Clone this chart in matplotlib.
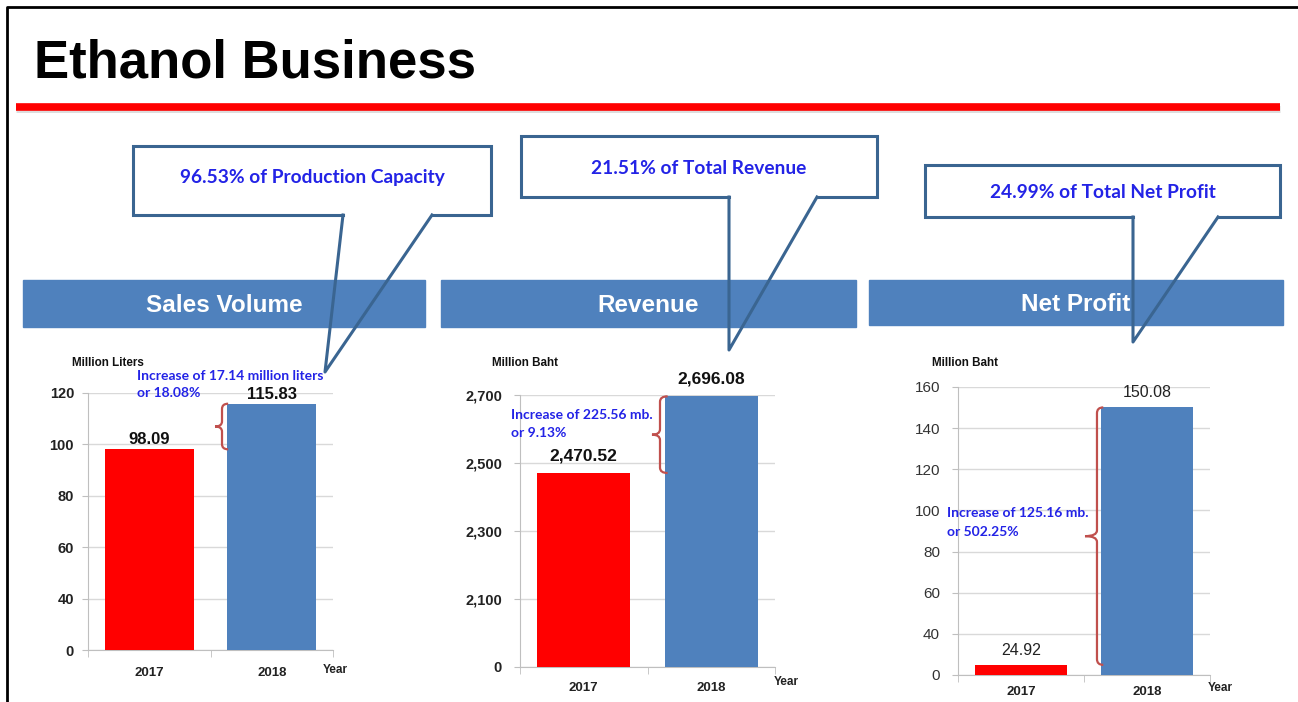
import matplotlib.pyplot as plt
from matplotlib.path import Path
from matplotlib.patches import PathPatch, Rectangle

# Datos del gráfico
years = ['2017', '2018']
sales_volume = [98.09, 115.83]      # millones de litros
revenue = [2470.52, 2696.08]        # millones de baht
net_profit = [24.92, 150.08]        # millones de baht

panel_titles = ['Sales Volume', 'Revenue', 'Net Profit']
callout_texts = ['96.53% of Production Capacity', '21.51% of Total Revenue',
                 '24.99% of Total Net Profit']
increase_texts = [['Increase of 17.14 million liters', 'or 18.08%'],
                  ['Increase of 225.56 mb.', 'or 9.13%'],
                  ['Increase of 125.16 mb.', 'or 502.25%']]
unit_labels = ['Million Liters', 'Million Baht', 'Million Baht']

# Ejes con corte: valores reales de las marcas
sales_ticks = [0, 40, 60, 80, 100, 120]
revenue_ticks = [0, 2100, 2300, 2500, 2700]
profit_ticks = [0, 40, 60, 80, 100, 120, 140, 160]

RED = '#FF0000'
BLUE = '#4F81BD'
TXT_BLUE = '#2323E6'
BOX_EDGE = '#3A6591'
BRACE = '#C0504D'

W, H = 1298, 702
plt.rcParams['font.family'] = ['Liberation Sans', 'DejaVu Sans']
fig = plt.figure(figsize=(W / 100, H / 100), dpi=100)


def px_box(x0, y0, x1, y1):
    # convierte pixeles (origen arriba-izquierda) a fracciones de figura
    return [x0 / W, 1 - y1 / H, (x1 - x0) / W, (y1 - y0) / H]


def axis_map(base):
    # valores por encima del corte se desplazan, el 0 queda en 0
    return lambda v: 0 if v == 0 else v - base


def draw_brace(ax, x_line, x_tip, y1, y2, hook):
    ym = (y1 + y2) / 2
    r = (ax.get_ylim()[1] - ax.get_ylim()[0]) * 0.02
    verts = [(x_line + hook, y2), (x_line, y2), (x_line, y2 - r),
             (x_line, ym + r),
             (x_line, ym), (x_tip, ym), (x_line, ym), (x_line, ym - r),
             (x_line, y1 + r),
             (x_line, y1), (x_line + hook, y1)]
    codes = [Path.MOVETO, Path.CURVE3, Path.CURVE3,
             Path.LINETO,
             Path.CURVE3, Path.CURVE3, Path.CURVE3, Path.CURVE3,
             Path.LINETO,
             Path.CURVE3, Path.CURVE3]
    ax.add_patch(PathPatch(Path(verts, codes), fill=False, edgecolor=BRACE,
                           lw=1.6, zorder=5))


def bar_panel(rect, values, ticks, base, ylim_top, tick_font, tick_pad,
              value_font, value_off, brace_x, cat_pad):
    ax = fig.add_axes(px_box(*rect))
    f = axis_map(base)
    disp = [f(v) for v in values]
    ax.bar([0, 1], disp, width=0.73, color=[RED, BLUE], zorder=3)
    ax.set_xlim(-0.5, 1.5)
    ax.set_ylim(0, ylim_top)
    ax.set_yticks([f(t) for t in ticks])
    ax.set_yticklabels(['{:,}'.format(t) for t in ticks], **tick_font)
    ax.set_xticks([0, 1])
    ax.set_xticklabels(years, fontsize=9.5, fontweight='bold', color='#222222')
    ax.set_xticks([-0.5, 0.5, 1.5], minor=True)
    ax.tick_params(axis='x', which='major', length=0, pad=cat_pad)
    ax.tick_params(axis='x', which='minor', length=5, color='#BFBFBF')
    ax.tick_params(axis='y', length=4, color='#BFBFBF', pad=tick_pad)
    ax.grid(axis='y', color='#D9D9D9', lw=1, zorder=0)
    for s in ['top', 'right']:
        ax.spines[s].set_visible(False)
    for s in ['left', 'bottom']:
        ax.spines[s].set_color('#BFBFBF')
    ax.patch.set_alpha(0)
    for i, (v, d) in enumerate(zip(values, disp)):
        ax.annotate('{:,.2f}'.format(v), (i, d), xytext=(0, value_off[i]),
                    textcoords='offset points', ha='center', va='bottom',
                    **value_font)
    draw_brace(ax, brace_x[0], brace_x[1], disp[0], disp[1], brace_x[2])
    return ax


# Paneles de barras
bar_panel((88, 393, 333, 650), sales_volume, sales_ticks, 20, 100,
          dict(fontsize=10.5, fontweight='bold', color='#222222'), 6,
          dict(fontsize=12, fontweight='bold', color='#111111'), (2, 1),
          (0.594, 0.537, 0.05), 12)
bar_panel((520, 395, 775, 667), revenue, revenue_ticks, 1900, 800,
          dict(fontsize=10.5, fontweight='bold', color='#222222'), 9,
          dict(fontsize=12.5, fontweight='bold', color='#111111'), (7, 7),
          (0.598, 0.535, 0.06), 11)
bar_panel((958, 387, 1210, 675), net_profit, profit_ticks, 20, 140,
          dict(fontsize=11, color='#333333'), 9,
          dict(fontsize=11.5, color='#222222'), (5, 5),
          (0.603, 0.508, 0.05), 8)

# Capa de decoración en pixeles
deco = fig.add_axes([0, 0, 1, 1])
deco.set_xlim(0, W)
deco.set_ylim(H, 0)
deco.axis('off')

# marco de la diapositiva
deco.plot([7, 7, W], [H, 7, 7], color='black', lw=2, zorder=1)

deco.text(34, 63, 'Ethanol Business', fontsize=38, fontweight='bold',
          va='center', ha='left', color='black')
deco.plot([16, 1280], [109, 109], color='#DDDDDD', lw=5, solid_capstyle='butt')
deco.plot([16, 1280], [107, 107], color=RED, lw=5.5, solid_capstyle='butt')

# franjas de encabezado
banners = [(23, 425, 280, 327), (441, 856, 280, 327), (869, 1283, 280, 325)]
for (x0, x1, y0, y1), t in zip(banners, panel_titles):
    deco.add_patch(Rectangle((x0, y0), x1 - x0, y1 - y0, color=BLUE, zorder=2))
    deco.text((x0 + x1) / 2, (y0 + y1) / 2 + 2, t, color='white',
              fontsize=17.5, fontweight='bold', ha='center', va='center',
              zorder=3)

# globos de texto con puntero
callouts = [((133, 146, 491, 215), (343, 432), (325, 372), 178),
            ((521, 136, 877, 197), (729, 817), (729, 350), 168),
            ((925, 165, 1280, 217), (1133, 1218), (1133, 342), 193)]
for ((x0, y0, x1, y1), (b1, b2), tip, ty), t in zip(callouts, callout_texts):
    deco.add_patch(Rectangle((x0, y0), x1 - x0, y1 - y0, facecolor='white',
                             edgecolor='none', zorder=4))
    deco.plot([b1, x0, x0, x1, x1, b2], [y1, y1, y0, y0, y1, y1],
              color=BOX_EDGE, lw=2.2, zorder=5, solid_joinstyle='miter')
    deco.plot([b1, tip[0], b2], [y1, tip[1], y1], color=BOX_EDGE, lw=2.2,
              zorder=5)
    deco.text((x0 + x1) / 2, ty, t, color=TXT_BLUE, fontsize=13.8,
              fontweight='bold', ha='center', va='center', zorder=6,
              family=['Lato', 'DejaVu Sans'])

# textos de incremento, una línea por texto
for (x, y1, y2), lines in zip([(137, 376, 393), (511, 415, 433),
                               (947, 513, 532)], increase_texts):
    for y, t in zip((y1, y2), lines):
        deco.text(x, y, t, color=TXT_BLUE, fontsize=10, fontweight='bold',
                  ha='left', va='center', zorder=6,
                  family=['Lato', 'DejaVu Sans'])

# unidades y eje "Year"
for (x, y), t in zip([(72, 363), (492, 363), (932, 363)], unit_labels):
    deco.text(x, y, t, fontsize=8.4, fontweight='bold', ha='left',
              va='center', color='#111111')
for x, y in [(323, 670), (774, 682), (1208, 688)]:
    deco.text(x, y, 'Year', fontsize=8.5, fontweight='bold', ha='left',
              va='center', color='#222222')

fig.savefig('out.png', dpi=100)
